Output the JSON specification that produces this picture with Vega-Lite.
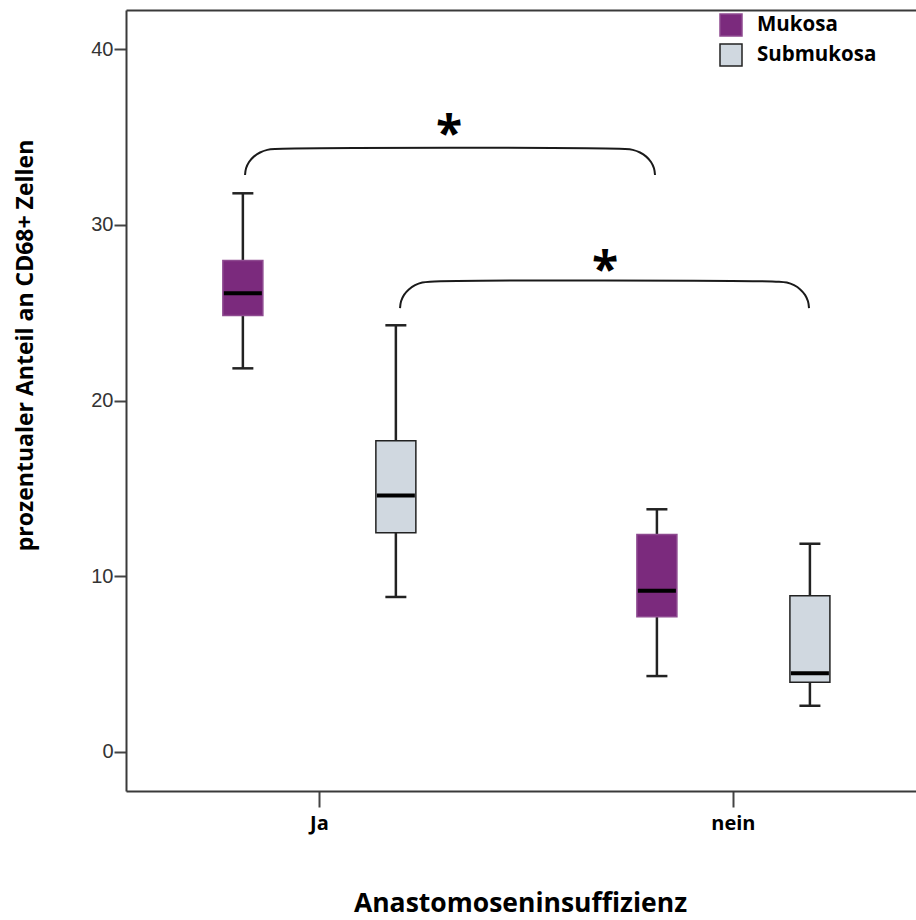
{
  "$schema": "https://vega.github.io/schema/vega-lite/v6.json",
  "autosize": {"type": "none"},
  "padding": {"left": 126, "top": 10, "right": 0, "bottom": 129},
  "width": 790,
  "height": 781,
  "background": "white",
  "config": {
    "view": {"stroke": null},
    "axis": {"grid": false, "domainColor": "#3a3a3a", "domainWidth": 2, "tickColor": "#444444", "tickWidth": 2},
    "legend": {
      "orient": "none", "legendX": 593, "legendY": 3, "padding": 0, "title": null,
      "symbolType": "square", "symbolSize": 484, "symbolStrokeWidth": 1.5,
      "labelFont": "Open Sans", "labelFontWeight": "bold", "labelFontSize": 20.5, "labelColor": "#000000",
      "labelOffset": 14, "rowPadding": 2
    }
  },
  "datasets": {
    "boxes": [
      {"gruppe": "Ja", "gewebe": "Mukosa", "min": 21.83, "q1": 24.83, "median": 26.1, "q3": 27.96, "max": 31.79},
      {"gruppe": "Ja", "gewebe": "Submukosa", "min": 8.82, "q1": 12.48, "median": 14.6, "q3": 17.71, "max": 24.28},
      {"gruppe": "nein", "gewebe": "Mukosa", "min": 4.32, "q1": 7.7, "median": 9.18, "q3": 12.37, "max": 13.81},
      {"gruppe": "nein", "gewebe": "Submukosa", "min": 2.63, "q1": 3.97, "median": 4.48, "q3": 8.89, "max": 11.85}
    ],
    "klammern": [
      {"vergleich": "Mukosa", "i": 1, "xb": 0.8213, "y": 32.83},
      {"vergleich": "Mukosa", "i": 2, "xb": 0.8238, "y": 33.213},
      {"vergleich": "Mukosa", "i": 3, "xb": 0.831, "y": 33.57},
      {"vergleich": "Mukosa", "i": 4, "xb": 0.8425, "y": 33.877},
      {"vergleich": "Mukosa", "i": 5, "xb": 0.8576, "y": 34.112},
      {"vergleich": "Mukosa", "i": 6, "xb": 0.875, "y": 34.26},
      {"vergleich": "Mukosa", "i": 7, "xb": 0.8938, "y": 34.31},
      {"vergleich": "Mukosa", "i": 8, "xb": 1.7391, "y": 34.31},
      {"vergleich": "Mukosa", "i": 9, "xb": 1.7579, "y": 34.26},
      {"vergleich": "Mukosa", "i": 10, "xb": 1.7754, "y": 34.112},
      {"vergleich": "Mukosa", "i": 11, "xb": 1.7904, "y": 33.877},
      {"vergleich": "Mukosa", "i": 12, "xb": 1.8019, "y": 33.57},
      {"vergleich": "Mukosa", "i": 13, "xb": 1.8091, "y": 33.213},
      {"vergleich": "Mukosa", "i": 14, "xb": 1.8116, "y": 32.83},
      {"vergleich": "Submukosa", "i": 1, "xb": 1.1957, "y": 25.26},
      {"vergleich": "Submukosa", "i": 2, "xb": 1.1982, "y": 25.648},
      {"vergleich": "Submukosa", "i": 3, "xb": 1.2054, "y": 26.01},
      {"vergleich": "Submukosa", "i": 4, "xb": 1.2169, "y": 26.321},
      {"vergleich": "Submukosa", "i": 5, "xb": 1.232, "y": 26.559},
      {"vergleich": "Submukosa", "i": 6, "xb": 1.2494, "y": 26.709},
      {"vergleich": "Submukosa", "i": 7, "xb": 1.2682, "y": 26.76},
      {"vergleich": "Submukosa", "i": 8, "xb": 2.1111, "y": 26.76},
      {"vergleich": "Submukosa", "i": 9, "xb": 2.1299, "y": 26.709},
      {"vergleich": "Submukosa", "i": 10, "xb": 2.1474, "y": 26.559},
      {"vergleich": "Submukosa", "i": 11, "xb": 2.1624, "y": 26.321},
      {"vergleich": "Submukosa", "i": 12, "xb": 2.1739, "y": 26.01},
      {"vergleich": "Submukosa", "i": 13, "xb": 2.1811, "y": 25.648},
      {"vergleich": "Submukosa", "i": 14, "xb": 2.1836, "y": 25.26}
    ],
    "sterne": [
      {"vergleich": "Mukosa", "xb": 1.314, "y": 35.62, "label": "*"},
      {"vergleich": "Submukosa", "xb": 1.691, "y": 27.88, "label": "*"}
    ]
  },
  "layer": [
    {
      "data": {"name": "boxes"},
      "encoding": {
        "x": {
          "field": "gruppe", "type": "nominal",
          "scale": {"type": "point", "domain": ["Ja", "nein"], "padding": 0.454, "align": 0.513},
          "axis": {
            "orient": "bottom", "title": "Anastomoseninsuffizienz", "labelAngle": 0,
            "labelFont": "Open Sans", "labelFontWeight": "bold", "labelFontSize": 20, "labelColor": "#000000",
            "labelPadding": 6, "tickSize": 16,
            "titleFont": "Open Sans", "titleFontWeight": "bold", "titleFontSize": 26.5, "titleColor": "#000000",
            "titleX": 394, "titleY": 112, "titleAlign": "center", "titleBaseline": "middle"
          }
        },
        "xOffset": {
          "field": "gewebe", "type": "nominal",
          "scale": {"type": "point", "domain": ["Mukosa", "Submukosa"], "range": [-76, 77], "padding": 0}
        }
      },
      "layer": [
        {
          "mark": {"type": "rule", "color": "#222222", "strokeWidth": 2.5},
          "encoding": {
            "y": {
              "field": "min", "type": "quantitative",
              "scale": {"domain": [-2.22, 42.22], "nice": false, "zero": false},
              "title": "prozentualer Anteil an CD68+ Zellen",
              "axis": {"values": [0, 10, 20, 30, 40], "tickSize": 12, "labelPadding": 1, "labelFont": "Liberation Sans", "labelFontSize": 20, "labelColor": "#333333", "titleFont": "Open Sans", "titleFontWeight": "bold", "titleFontSize": 23, "titleColor": "#000000", "titleAngle": -90, "titleX": -101, "titleY": 335, "titleAlign": "center", "titleBaseline": "middle"}
            },
            "y2": {"field": "max"}
          }
        },
        {
          "mark": {"type": "bar", "width": 40, "strokeWidth": 1.5},
          "encoding": {
            "y": {"field": "q1", "type": "quantitative", "title": "prozentualer Anteil an CD68+ Zellen",
              "axis": {"values": [0, 10, 20, 30, 40], "tickSize": 12, "labelPadding": 1, "labelFont": "Liberation Sans", "labelFontSize": 20, "labelColor": "#333333", "titleFont": "Open Sans", "titleFontWeight": "bold", "titleFontSize": 23, "titleColor": "#000000", "titleAngle": -90, "titleX": -101, "titleY": 335, "titleAlign": "center", "titleBaseline": "middle"}},
            "y2": {"field": "q3"},
            "fill": {
              "field": "gewebe", "type": "nominal",
              "scale": {"domain": ["Mukosa", "Submukosa"], "range": ["#7b2a7d", "#d0d8e0"]}
            },
            "stroke": {
              "field": "gewebe", "type": "nominal",
              "scale": {"domain": ["Mukosa", "Submukosa"], "range": ["#8e4a90", "#222222"]}
            }
          }
        },
        {
          "mark": {"type": "tick", "color": "#222222", "size": 21, "thickness": 2.5, "orient": "horizontal", "opacity": 1},
          "encoding": {"y": {"field": "min", "type": "quantitative", "title": "prozentualer Anteil an CD68+ Zellen",
            "axis": {"values": [0, 10, 20, 30, 40], "tickSize": 12, "labelPadding": 1, "labelFont": "Liberation Sans", "labelFontSize": 20, "labelColor": "#333333", "titleFont": "Open Sans", "titleFontWeight": "bold", "titleFontSize": 23, "titleColor": "#000000", "titleAngle": -90, "titleX": -101, "titleY": 335, "titleAlign": "center", "titleBaseline": "middle"}}}
        },
        {
          "mark": {"type": "tick", "color": "#222222", "size": 21, "thickness": 2.5, "orient": "horizontal", "opacity": 1},
          "encoding": {"y": {"field": "max", "type": "quantitative", "title": "prozentualer Anteil an CD68+ Zellen",
            "axis": {"values": [0, 10, 20, 30, 40], "tickSize": 12, "labelPadding": 1, "labelFont": "Liberation Sans", "labelFontSize": 20, "labelColor": "#333333", "titleFont": "Open Sans", "titleFontWeight": "bold", "titleFontSize": 23, "titleColor": "#000000", "titleAngle": -90, "titleX": -101, "titleY": 335, "titleAlign": "center", "titleBaseline": "middle"}}}
        },
        {
          "mark": {"type": "tick", "color": "#000000", "size": 38, "thickness": 4, "orient": "horizontal", "opacity": 1},
          "encoding": {"y": {"field": "median", "type": "quantitative", "title": "prozentualer Anteil an CD68+ Zellen",
            "axis": {"values": [0, 10, 20, 30, 40], "tickSize": 12, "labelPadding": 1, "labelFont": "Liberation Sans", "labelFontSize": 20, "labelColor": "#333333", "titleFont": "Open Sans", "titleFontWeight": "bold", "titleFontSize": 23, "titleColor": "#000000", "titleAngle": -90, "titleX": -101, "titleY": 335, "titleAlign": "center", "titleBaseline": "middle"}}}
        }
      ]
    },
    {
      "encoding": {
        "x": {"field": "xb", "type": "quantitative", "scale": {"domain": [0.5338, 2.442], "nice": false, "zero": false}}
      },
      "layer": [
        {
          "data": {"name": "klammern"},
          "mark": {"type": "line", "color": "#1a1a1a", "strokeWidth": 2, "interpolate": "catmull-rom"},
          "encoding": {
            "x": {"field": "xb", "type": "quantitative", "axis": {"orient": "top", "labels": false, "ticks": false, "title": null, "domain": true}},
            "y": {"field": "y", "type": "quantitative", "title": "prozentualer Anteil an CD68+ Zellen",
              "axis": {"values": [0, 10, 20, 30, 40], "tickSize": 12, "labelPadding": 1, "labelFont": "Liberation Sans", "labelFontSize": 20, "labelColor": "#333333", "titleFont": "Open Sans", "titleFontWeight": "bold", "titleFontSize": 23, "titleColor": "#000000", "titleAngle": -90, "titleX": -101, "titleY": 335, "titleAlign": "center", "titleBaseline": "middle"}},
            "detail": {"field": "vergleich"},
            "order": {"field": "i", "type": "quantitative"}
          }
        },
        {
          "data": {"name": "sterne"},
          "mark": {"type": "text", "font": "Open Sans", "fontWeight": "bold", "fontSize": 48, "color": "#000000", "baseline": "alphabetic", "align": "center", "dy": 24},
          "encoding": {
            "x": {"field": "xb", "type": "quantitative", "axis": {"orient": "top", "labels": false, "ticks": false, "title": null, "domain": true}},
            "y": {"field": "y", "type": "quantitative", "title": "prozentualer Anteil an CD68+ Zellen",
              "axis": {"values": [0, 10, 20, 30, 40], "tickSize": 12, "labelPadding": 1, "labelFont": "Liberation Sans", "labelFontSize": 20, "labelColor": "#333333", "titleFont": "Open Sans", "titleFontWeight": "bold", "titleFontSize": 23, "titleColor": "#000000", "titleAngle": -90, "titleX": -101, "titleY": 335, "titleAlign": "center", "titleBaseline": "middle"}},
            "text": {"field": "label"}
          }
        }
      ]
    }
  ],
  "resolve": {"scale": {"x": "independent"}}
}
